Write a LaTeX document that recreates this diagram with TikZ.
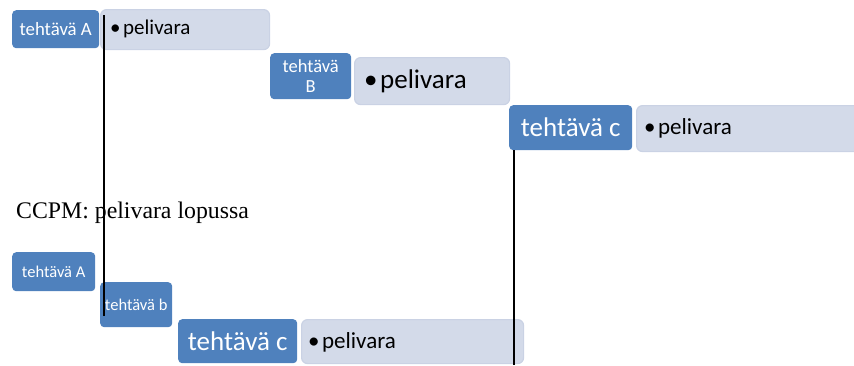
\documentclass[tikz,border=0pt]{standalone}
\usepackage{fontspec}
\setmainfont{Liberation Serif}
\newfontfamily\calfont{Carlito}
\definecolor{tblue}{HTML}{4F81BD}
\definecolor{tlight}{HTML}{D3DAE9}
\definecolor{tlightedge}{HTML}{CAD2E4}
\newcommand{\pv}{•\kern2.5pt pelivara}
\begin{document}
\begin{tikzpicture}[x=1pt,y=-1pt,
  task/.style={fill=tblue, draw=none, rounded corners=4pt, inner sep=0pt, anchor=north west, text=white, align=center},
  lightbox/.style={fill=tlight, draw=tlightedge, line width=1.2pt, rounded corners=6pt, inner sep=0pt, anchor=north west},
  bul/.style={inner sep=0pt, anchor=base west},
  vline/.style={draw=black, line width=1.5pt}]
\useasboundingbox (0,0) rectangle (854,365);
% top row
\node[lightbox, minimum width=169pt, minimum height=40pt] (lA) at (100,9) {};
\node[task, minimum width=87pt, minimum height=38pt, font=\calfont\fontsize{18.8}{20}\selectfont] (tA) at (12,10) {tehtävä A};
\node[bul, font=\calfont\fontsize{21}{22}\selectfont] (pA) at (110,34) {\pv};

\node[lightbox, minimum width=155pt, minimum height=47pt] (lB) at (354,57) {};
\node[task, minimum width=81pt, minimum height=46pt, font=\calfont\fontsize{18.5}{20}\selectfont] (tB) at (270,53) {tehtävä\\B};
\node[bul, font=\calfont\fontsize{27}{29}\selectfont] (pB) at (364,88) {\pv};

\node[lightbox, minimum width=225pt, minimum height=46pt] (lC) at (636,105) {};
\node[task, minimum width=123pt, minimum height=45pt, font=\calfont\fontsize{27}{29}\selectfont] (tC) at (509,105) {tehtävä c};
\node[bul, font=\calfont\fontsize{23}{25}\selectfont] (pC) at (644,134) {\pv};

% caption
\node[inner sep=0pt, anchor=base west, font=\fontsize{23.8}{26}\selectfont] (cap) at (16,218) {CCPM: pelivara lopussa};

% bottom row
\node[task, minimum width=83pt, minimum height=39pt, font=\calfont\fontsize{16.5}{18}\selectfont] (bA) at (12,252) {tehtävä A};
\node[task, minimum width=72pt, minimum height=45pt, font=\calfont\fontsize{16.5}{18}\selectfont] (bB) at (100,282) {tehtävä b};
\node[lightbox, minimum width=222pt, minimum height=44pt] (blC) at (301,319) {};
\node[task, minimum width=119pt, minimum height=44pt, font=\calfont\fontsize{27}{29}\selectfont] (bC) at (178,319) {tehtävä c};
\node[bul, font=\calfont\fontsize{23}{25}\selectfont] (bpC) at (308,348) {\pv};

% vertical lines
\coordinate (v1t) at (104,15);
\coordinate (v1b) at (104,316);
\coordinate (v2t) at (514,150);
\coordinate (v2b) at (514,365);
\draw[vline] (v1t) -- (v1b);
\draw[vline] (v2t) -- (v2b);
\end{tikzpicture}
\end{document}
